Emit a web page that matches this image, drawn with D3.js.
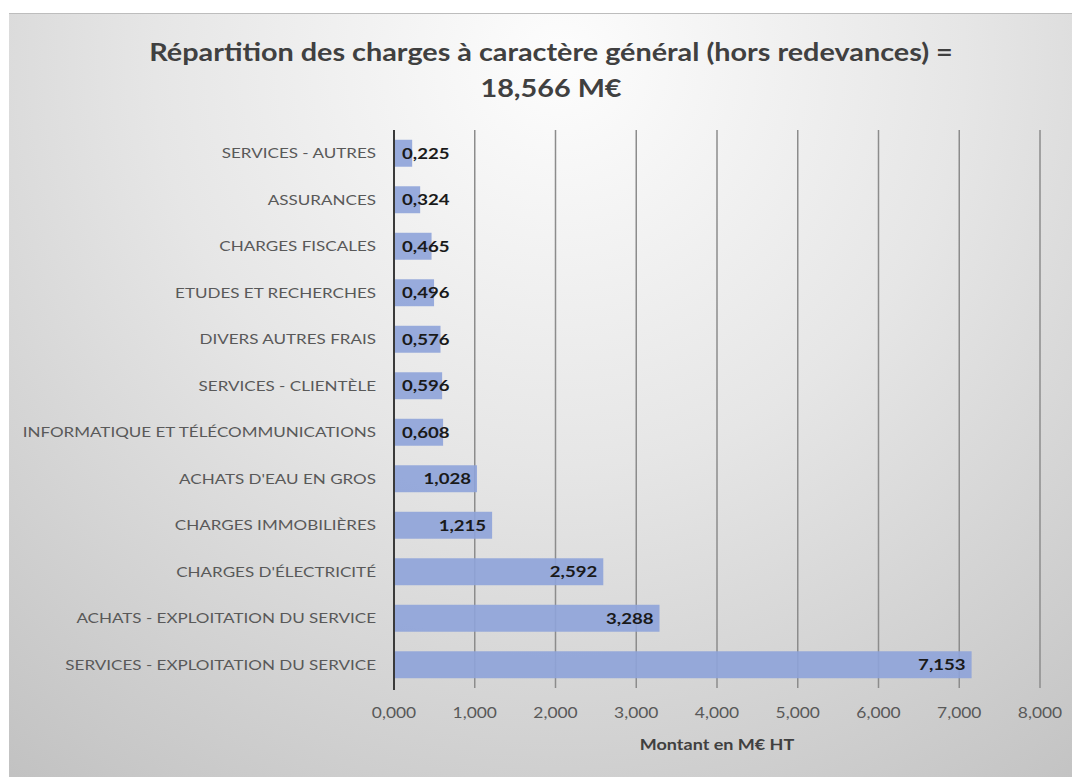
<!DOCTYPE html>
<html>
<head>
<meta charset="utf-8">
<script src="https://cdn.jsdelivr.net/npm/d3@7"></script>
<style>
  html, body { margin: 0; padding: 0; background: #ffffff; }
  svg { display: block; }
</style>
</head>
<body>
<svg id="chart" width="1072" height="777"></svg>
<script>
// Charges à caractère général, en M€ HT (ordre d'affichage de haut en bas)
const categories = [
  "SERVICES - AUTRES",
  "ASSURANCES",
  "CHARGES FISCALES",
  "ETUDES ET RECHERCHES",
  "DIVERS AUTRES FRAIS",
  "SERVICES - CLIENTÈLE",
  "INFORMATIQUE ET TÉLÉCOMMUNICATIONS",
  "ACHATS D'EAU EN GROS",
  "CHARGES IMMOBILIÈRES",
  "CHARGES D'ÉLECTRICITÉ",
  "ACHATS - EXPLOITATION DU SERVICE",
  "SERVICES - EXPLOITATION DU SERVICE"
];
const values = [0.225, 0.324, 0.465, 0.496, 0.576, 0.596, 0.608, 1.028, 1.215, 2.592, 3.288, 7.153];
const xTicks = [0, 1, 2, 3, 4, 5, 6, 7, 8];
const titleLines = ["Répartition des charges à caractère général (hors redevances) =", "18,566 M€"];
const xAxisTitle = "Montant en M€ HT";

const W = 1072, H = 777;
const font = "Lato, 'Open Sans', sans-serif";
const SX = 1.2; // largeur des glyphes (police étroite élargie)
const fmt = v => d3.format(".3f")(v).replace(".", ",");

const svg = d3.select("#chart");

// Texte placé en (x, y) avec une légère extension horizontale
function label(parent, x, y, txt, opts) {
  const g = parent.append("g").attr("transform", `translate(${x},${y}) scale(${SX},1)`);
  const t = g.append("text")
    .attr("text-anchor", opts.anchor || "middle")
    .attr("dy", opts.dy || 0)
    .attr("font-family", font)
    .attr("font-size", opts.size)
    .attr("font-weight", opts.weight || "normal")
    .attr("fill", opts.fill)
    .text(txt);
  return { g, t };
}

// Fond du graphique : dégradé gris clair
const defs = svg.append("defs");
const grad = defs.append("radialGradient")
  .attr("id", "bg").attr("gradientUnits", "userSpaceOnUse")
  .attr("cx", 560).attr("cy", 60).attr("r", 900);
grad.append("stop").attr("offset", "0%").attr("stop-color", "#fdfdfd");
grad.append("stop").attr("offset", "45%").attr("stop-color", "#e6e6e6");
grad.append("stop").attr("offset", "100%").attr("stop-color", "#c2c2c2");

svg.append("rect").attr("x", 9).attr("y", 13).attr("width", W - 9).attr("height", H - 13)
  .attr("fill", "url(#bg)");
svg.append("line").attr("x1", 9).attr("x2", W).attr("y1", 13.5).attr("y2", 13.5)
  .attr("stroke", "#bdbdbd").attr("stroke-width", 1);

// Zone de tracé
const m = { left: 394, right: 1040, top: 130, bottom: 688 };

const x = d3.scaleLinear().domain([0, 8]).range([m.left, m.right]);
const y = d3.scaleBand().domain(categories).range([m.top, m.bottom]).paddingInner(0.42).paddingOuter(0.21);

// Titre
titleLines.forEach((t, i) => {
  label(svg, 551, 61 + i * 36, t, { size: 24, weight: "bold", fill: "#404040" });
});

// Grille verticale
svg.append("g").selectAll("line").data(xTicks.slice(1)).join("line")
  .attr("x1", d => x(d)).attr("x2", d => x(d))
  .attr("y1", m.top).attr("y2", m.bottom)
  .attr("stroke", "#8c8c8c").attr("stroke-width", 1.5);

// Barres
svg.append("g").selectAll("rect").data(values).join("rect")
  .attr("x", x(0))
  .attr("y", (d, i) => y(categories[i]))
  .attr("width", d => x(d) - x(0))
  .attr("height", y.bandwidth())
  .attr("fill", "#8ea3d9").attr("fill-opacity", 0.9);

// Axe des catégories
svg.append("line").attr("x1", x(0)).attr("x2", x(0)).attr("y1", m.top).attr("y2", m.bottom + 2)
  .attr("stroke", "#3a3a3a").attr("stroke-width", 2);

const catG = svg.append("g");
categories.forEach(c => {
  label(catG, m.left - 18, y(c) + y.bandwidth() / 2, c,
    { anchor: "end", dy: "0.35em", size: 14.2, fill: "#595959" });
});

// Étiquettes de valeurs (à l'intérieur, en bout de barre)
const valG = svg.append("g");
values.forEach((v, i) => {
  const cy = y(categories[i]) + y.bandwidth() / 2;
  const { g, t } = label(valG, 0, cy, fmt(v),
    { anchor: "end", dy: "0.36em", size: 15.5, weight: "bold", fill: "#1a1a1a" });
  const w = t.node().getComputedTextLength() * SX;
  const px = Math.max(x(v) - 6, x(0) + 8 + w);
  g.attr("transform", `translate(${px},${cy}) scale(${SX},1)`);
});

// Axe des valeurs
const tickG = svg.append("g");
xTicks.forEach(d => {
  label(tickG, x(d), 718, fmt(d), { size: 14.5, fill: "#595959" });
});

label(svg, (m.left + m.right) / 2, 750, xAxisTitle, { size: 15, weight: "bold", fill: "#404040" });
</script>
</body>
</html>
